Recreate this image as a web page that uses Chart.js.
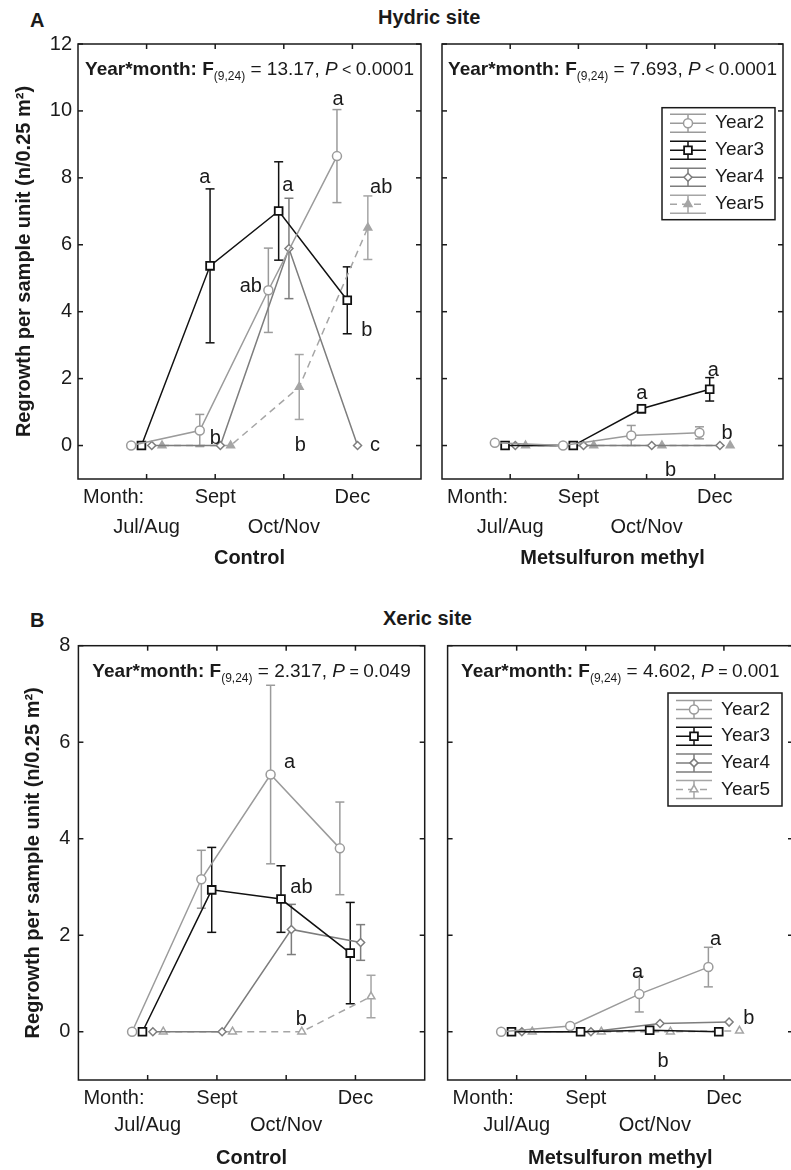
<!DOCTYPE html>
<html>
<head>
<meta charset="utf-8">
<title>Regrowth per sample unit</title>
<script src="https://cdn.jsdelivr.net/npm/chart.js@4.4.0/dist/chart.umd.min.js"></script>
<style>
  body { margin: 0; background: #fff; width: 791px; height: 1170px; overflow: hidden; position: relative;
         font-family: "Liberation Sans", Arial, sans-serif; color: #1a1a1a; }
  canvas { position: absolute; }
  .head { position: absolute; font-weight: bold; font-size: 20px; line-height: 20px; white-space: nowrap; }
</style>
</head>
<body>
<div class="head" style="left:30px; top:10px;">A</div>
<div class="head" style="left:378px; top:7px;">Hydric site</div>
<div class="head" style="left:30px; top:610px;">B</div>
<div class="head" style="left:383px; top:608px;">Xeric site</div>

<canvas id="hydricControl" width="430" height="580" style="left:0; top:0;"></canvas>
<canvas id="hydricMet" width="361" height="580" style="left:430px; top:0;"></canvas>
<canvas id="xericControl" width="432" height="570" style="left:0; top:600px;"></canvas>
<canvas id="xericMet" width="370" height="570" style="left:432px; top:600px;"></canvas>

<script>
const months = ["Jul/Aug", "Sept", "Oct/Nov", "Dec"];
const years = ["Year2", "Year3", "Year4", "Year5"];
// side-by-side shift of each year around the month position
const dodge = [-0.225, -0.075, 0.075, 0.225];

const hydricTicks = [0, 2, 4, 6, 8, 10, 12];
const xericTicks = [0, 2, 4, 6, 8];

// rows = Year2..Year5, columns = months
const hydricControlMean = [
	[0, 0.45, 4.64, 8.65],
	[0, 5.37, 7.01, 4.34],
	[0, 0, 5.89, 0],
	[0, 0, 1.75, 6.51]
];
const hydricControlSE = [
	[0, 0.48, 1.26, 1.39],
	[0, 2.3, 1.47, 1.0],
	[0, 0, 1.5, 0],
	[0, 0, 0.97, 0.95]
];
const hydricMetMean = [
	[0.08, 0, 0.3, 0.38],
	[0, 0, 1.1, 1.68],
	[0, 0, 0, 0],
	[0, 0, 0, 0]
];
const hydricMetSE = [
	[0.03, 0, 0.3, 0.18],
	[0, 0, 0.12, 0.35],
	[0, 0, 0, 0],
	[0, 0, 0, 0]
];
const xericControlMean = [
	[0, 3.16, 5.33, 3.8],
	[0, 2.94, 2.75, 1.63],
	[0, 0, 2.12, 1.85],
	[0, 0, 0, 0.73]
];
const xericControlSE = [
	[0, 0.6, 1.85, 0.96],
	[0, 0.88, 0.69, 1.05],
	[0, 0, 0.52, 0.37],
	[0, 0, 0, 0.44]
];
const xericMetMean = [
	[0, 0.12, 0.78, 1.34],
	[0, 0, 0.03, 0],
	[0, 0, 0.17, 0.2],
	[0, 0, 0, 0.02]
];
const xericMetSE = [
	[0, 0, 0.37, 0.41],
	[0, 0, 0.03, 0],
	[0, 0, 0, 0],
	[0, 0, 0, 0]
];

// letters of the post-hoc groups: [text, month axis position, value axis position]
const hydricControlLetters = [
	["a", 1.85, 8.0], ["a", 3.06, 7.78], ["a", 3.79, 10.33], ["ab", 4.42, 7.72],
	["ab", 2.52, 4.76], ["b", 2.0, 0.21], ["b", 3.24, 0], ["b", 4.21, 3.44], ["c", 4.33, 0]
];
const hydricMetLetters = [
	["a", 2.93, 1.55], ["a", 3.98, 2.25], ["b", 4.18, 0.35], ["b", 3.35, -0.75]
];
const xericControlLetters = [
	["a", 3.05, 5.57], ["ab", 3.22, 2.98], ["b", 3.22, 0.26]
];
const xericMetLetters = [
	["a", 2.75, 1.22], ["a", 3.88, 1.92], ["b", 4.36, 0.28], ["b", 3.12, -0.62]
];

// Year*month interaction: F value, relation, P value
const hydricControlStat = ["13.17", "<", "0.0001"];
const hydricMetStat = ["7.693", "<", "0.0001"];
const xericControlStat = ["2.317", "=", "0.049"];
const xericMetStat = ["4.602", "=", "0.001"];

const ink = "#1a1a1a";
const fontFamily = '"Liberation Sans", Arial, sans-serif';
const seriesColor = ["#9b9b9b", "#111111", "#7d7d7d", "#a5a5a5"];
const seriesPoint = ["circle", "rect", "rectRot", "triangle"];
const seriesRadius = [4.5, 5.5, 4, 4.5];

Chart.defaults.font.family = fontFamily;
Chart.defaults.color = ink;

function line(ctx, x1, y1, x2, y2) {
	ctx.beginPath();
	ctx.moveTo(x1, y1);
	ctx.lineTo(x2, y2);
	ctx.stroke();
}

// box round the plot with inward ticks on every side
const framePlugin = {
	id: "frame",
	afterDatasetsDraw(chart, args, opts) {
		const { ctx, chartArea: a, scales: { x, y } } = chart;
		ctx.save();
		ctx.strokeStyle = ink;
		ctx.lineWidth = 1.5;
		ctx.strokeRect(a.left, a.top, a.right - a.left, a.bottom - a.top);
		months.forEach(function(m, i) {
			const px = x.getPixelForValue(i + 1);
			line(ctx, px, a.bottom, px, a.bottom - 5);
			line(ctx, px, a.top, px, a.top + 5);
		});
		opts.yTicks.forEach(function(v) {
			const py = y.getPixelForValue(v);
			line(ctx, a.left, py, a.left + 5, py);
			line(ctx, a.right, py, a.right - 5, py);
		});
		// "Month:" heads the first row of the month labels
		const xo = x.options.ticks;
		const rowHeight = Chart.helpers.toFont(xo.font).lineHeight;
		ctx.fillStyle = ink;
		ctx.font = "20px " + fontFamily;
		ctx.textAlign = "left";
		ctx.textBaseline = "middle";
		ctx.fillText("Month:", a.left + 5, x.top + xo.padding + rowHeight / 2);
		ctx.restore();
	}
};

const errorBarPlugin = {
	id: "errorBars",
	beforeDatasetsDraw(chart) {
		const { ctx, scales: { y } } = chart;
		ctx.save();
		ctx.lineWidth = 1.5;
		chart.data.datasets.forEach(function(ds, k) {
			const meta = chart.getDatasetMeta(k);
			ctx.strokeStyle = ds.borderColor;
			meta.data.forEach(function(pt, i) {
				const se = ds.se[i];
				if (!se) return;
				const mean = ds.data[i].y;
				const top = y.getPixelForValue(mean + se);
				const bottom = y.getPixelForValue(mean - se);
				line(ctx, pt.x, top, pt.x, bottom);
				line(ctx, pt.x - 4.5, top, pt.x + 4.5, top);
				line(ctx, pt.x - 4.5, bottom, pt.x + 4.5, bottom);
			});
		});
		ctx.restore();
	}
};

const notesPlugin = {
	id: "notes",
	afterDraw(chart, args, opts) {
		const { ctx, chartArea: a, scales: { x, y } } = chart;
		ctx.save();
		ctx.fillStyle = ink;
		ctx.textBaseline = "middle";

		// group letters
		ctx.font = "20px " + fontFamily;
		ctx.textAlign = "center";
		opts.letters.forEach(function(l) {
			ctx.fillText(l[0], x.getPixelForValue(l[1]), y.getPixelForValue(l[2]));
		});

		// Year*month: F(9,24) = ..., P ...
		const s = opts.stat;
		const parts = [
			{ t: "Year*month: F", f: "bold 19px", dy: 0 },
			{ t: "(9,24)", f: "12px", dy: 5 },
			{ t: " = " + s[0] + ", ", f: "19px", dy: 0 },
			{ t: "P", f: "italic 19px", dy: 0 },
			{ t: " " + s[1] + " ", f: "16px", dy: 0 },
			{ t: s[2], f: "19px", dy: 0 }
		];
		let w = 0;
		parts.forEach(function(p) {
			ctx.font = p.f + " " + fontFamily;
			p.w = ctx.measureText(p.t).width;
			w += p.w;
		});
		let px = (a.left + a.right) / 2 - w / 2;
		ctx.textAlign = "left";
		ctx.textBaseline = "alphabetic";
		parts.forEach(function(p) {
			ctx.font = p.f + " " + fontFamily;
			ctx.fillText(p.t, px, a.top + 31 + p.dy);
			px += p.w;
		});

		// legend: line, marker and error bar sample per year
		if (opts.legend) {
			const L = opts.legend;
			const bx = a.right - L.right - L.width;
			const by = a.top + L.top;
			ctx.lineWidth = 1.5;
			ctx.strokeStyle = ink;
			ctx.strokeRect(bx, by, L.width, L.height);
			chart.data.datasets.forEach(function(ds, k) {
				const cy = by + L.first + k * L.step;
				const cx = bx + 26;
				ctx.strokeStyle = ds.borderColor;
				ctx.lineWidth = 1.5;
				line(ctx, bx + 8, cy - 9, bx + 44, cy - 9);
				line(ctx, bx + 8, cy + 9, bx + 44, cy + 9);
				line(ctx, cx, cy - 9, cx, cy + 9);
				ctx.setLineDash(ds.borderDash || []);
				line(ctx, bx + 8, cy, bx + 44, cy);
				ctx.setLineDash([]);
				ctx.fillStyle = ds.pointBackgroundColor;
				ctx.lineWidth = ds.pointBorderWidth;
				Chart.helpers.drawPoint(ctx, {
					pointStyle: ds.pointStyle, radius: ds.pointRadius, rotation: 0, borderWidth: ds.pointBorderWidth
				}, cx, cy);
				ctx.fillStyle = ink;
				ctx.font = "19px " + fontFamily;
				ctx.textBaseline = "middle";
				ctx.fillText(ds.label, bx + 53, cy);
			});
		}
		ctx.restore();
	}
};

function drawPanel(id, cfg) {
	const datasets = years.map(function(name, k) {
		const open = !(k === 3 && cfg.triangleFill);
		return {
			label: name,
			data: months.map(function(m, i) {
				return { x: i + 1 + dodge[k], y: cfg.mean[k][i] };
			}),
			se: cfg.se[k],
			borderColor: seriesColor[k],
			borderWidth: 1.5,
			borderDash: k === 3 ? [7, 5] : [],
			pointStyle: seriesPoint[k],
			pointRadius: seriesRadius[k],
			pointBorderWidth: k === 1 ? 1.8 : 1.5,
			pointBorderColor: seriesColor[k],
			pointBackgroundColor: open ? "#ffffff" : seriesColor[k],
			tension: 0
		};
	});

	const tickRows = months.map(function(m, i) {
		return i % 2 === 0 ? ["", m] : [m, ""];
	});

	new Chart(document.getElementById(id), {
		type: "line",
		data: { datasets: datasets },
		plugins: [errorBarPlugin, framePlugin, notesPlugin],
		options: {
			responsive: false,
			animation: false,
			layout: { padding: cfg.pad },
			plugins: {
				legend: { display: false },
				tooltip: { enabled: false },
				frame: { yTicks: cfg.yTicks },
				notes: { letters: cfg.letters, stat: cfg.stat, legend: cfg.legend }
			},
			scales: {
				x: {
					type: "linear",
					min: 0,
					max: 5,
					grid: { display: false, drawTicks: false },
					border: { display: false },
					afterBuildTicks: function(scale) {
						scale.ticks = months.map(function(m, i) { return { value: i + 1 }; });
					},
					afterFit: function(scale) { scale.height = cfg.xHeight; },
					ticks: {
						autoSkip: false,
						maxRotation: 0,
						padding: cfg.xTickPad,
						color: ink,
						font: { size: 20, lineHeight: cfg.rowHeight / 20 },
						callback: function(v, i) { return tickRows[i]; }
					},
					title: {
						display: true,
						text: cfg.title,
						color: ink,
						font: { size: 20, weight: "bold" },
						padding: { top: 0, bottom: cfg.titlePad }
					}
				},
				y: {
					type: "linear",
					min: cfg.yMin,
					max: cfg.yMax,
					display: cfg.yAxis,
					grid: { display: false, drawTicks: false },
					border: { display: false },
					afterBuildTicks: function(scale) {
						scale.ticks = cfg.yTicks.map(function(v) { return { value: v }; });
					},
					afterFit: function(scale) { scale.width = cfg.yWidth; },
					ticks: {
						padding: cfg.yTickPad,
						color: ink,
						font: { size: 20 }
					},
					title: {
						display: true,
						text: "Regrowth per sample unit (n/0.25 m\u00b2)",
						color: ink,
						font: { size: 20, weight: "bold" },
						padding: { top: cfg.yTitlePad, bottom: 0 }
					}
				}
			}
		}
	});
}

drawPanel("hydricControl", {
	mean: hydricControlMean, se: hydricControlSE, letters: hydricControlLetters, stat: hydricControlStat,
	yMin: -1, yMax: 12, yTicks: hydricTicks, yAxis: true, yWidth: 78, yTickPad: 6, yTitlePad: 12,
	title: "Control", pad: { top: 44, right: 9, left: 0, bottom: 0 },
	xHeight: 101, xTickPad: 4, rowHeight: 29.5, titlePad: 10, triangleFill: true, legend: null
});
drawPanel("hydricMet", {
	mean: hydricMetMean, se: hydricMetSE, letters: hydricMetLetters, stat: hydricMetStat,
	yMin: -1, yMax: 12, yTicks: hydricTicks, yAxis: false, yWidth: 0, yTickPad: 6, yTitlePad: 12,
	title: "Metsulfuron methyl", pad: { top: 44, right: 8, left: 12, bottom: 0 },
	xHeight: 101, xTickPad: 4, rowHeight: 29.5, titlePad: 10, triangleFill: true,
	legend: { right: 8, top: 63.7, width: 113, height: 112, first: 15.5, step: 27 }
});
drawPanel("xericControl", {
	mean: xericControlMean, se: xericControlSE, letters: xericControlLetters, stat: xericControlStat,
	yMin: -1, yMax: 8, yTicks: xericTicks, yAxis: true, yWidth: 78.4, yTickPad: 8, yTitlePad: 21,
	title: "Control", pad: { top: 45.7, right: 7, left: 0, bottom: 0 },
	xHeight: 90, xTickPad: 4.5, rowHeight: 27, titlePad: 0, triangleFill: false, legend: null
});
drawPanel("xericMet", {
	mean: xericMetMean, se: xericMetSE, letters: xericMetLetters, stat: xericMetStat,
	yMin: -1, yMax: 8, yTicks: xericTicks, yAxis: false, yWidth: 0, yTickPad: 8, yTitlePad: 21,
	title: "Metsulfuron methyl", pad: { top: 45.7, right: 9, left: 15.6, bottom: 0 },
	xHeight: 90, xTickPad: 4.5, rowHeight: 27, titlePad: 0, triangleFill: false,
	legend: { right: 11, top: 47.3, width: 114, height: 113, first: 16.5, step: 26.7 }
});
</script>
</body>
</html>
